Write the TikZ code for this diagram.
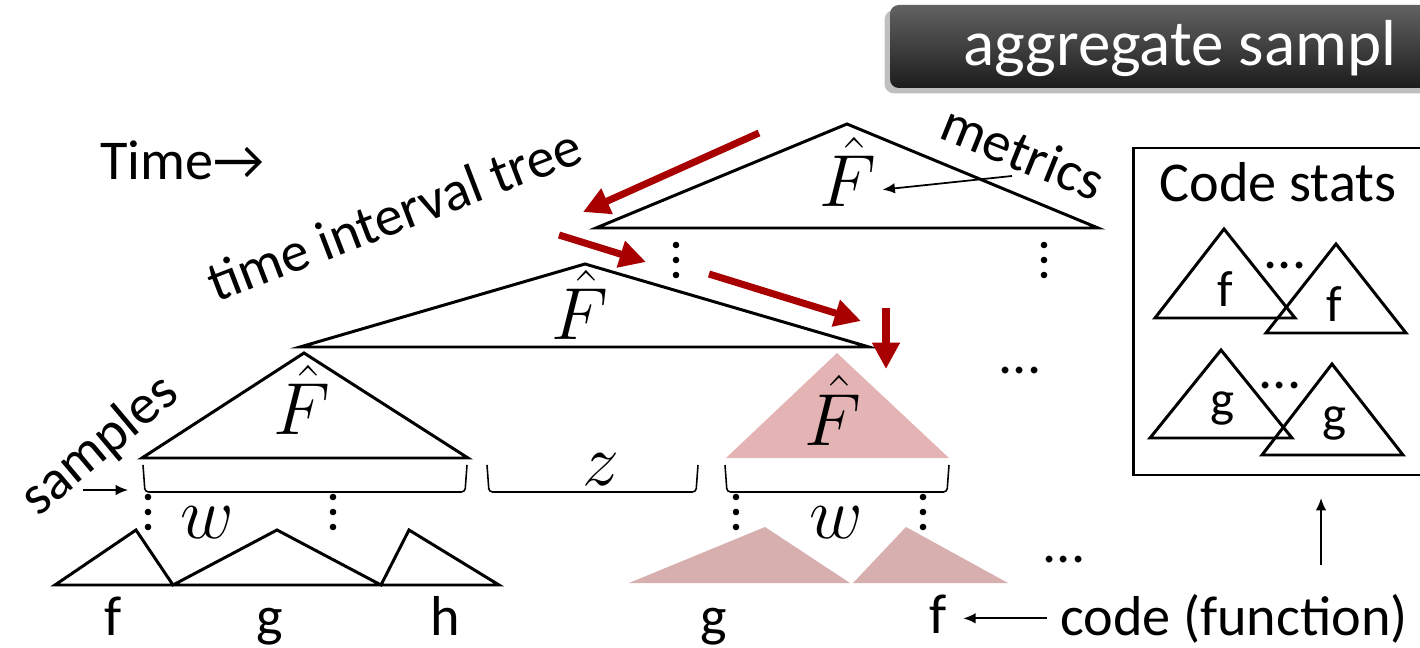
\documentclass[tikz,border=0pt]{standalone}
\usepackage{fix-cm}
\usepackage{fontspec}
\setmainfont{Carlito}
\usetikzlibrary{arrows.meta,shadows}
\definecolor{arrowred}{RGB}{168,0,0}
\definecolor{pinktop}{RGB}{228,180,180}
\definecolor{pinkbot}{RGB}{216,175,175}
\definecolor{bartop}{RGB}{98,98,98}
\definecolor{barbot}{RGB}{28,28,28}

\begin{document}
\begin{tikzpicture}[x=0.02cm, y=-0.02cm, >={Latex[length=7pt,width=6pt]},
  lbl/.style={font=\fontsize{32}{34}\selectfont},
  small/.style={font=\fontsize{29}{31}\selectfont},
  mth/.style={font=\fontsize{42}{44}\selectfont},
  tri/.style={line width=1.7pt, line join=miter},
  bracket/.style={line width=0.9pt, rounded corners=2pt},
  redarrow/.style={line width=4pt, arrowred, -{Triangle[length=15pt,width=15pt]}}]
\useasboundingbox (0,0) rectangle (1420,648);
\clip (0,0) rectangle (1420,648);

\path[drop shadow={shadow xshift=-3pt, shadow yshift=-3pt, opacity=0.5}, top color=bartop, bottom color=barbot, rounded corners=5pt] (890,5) rectangle (1460,88);
\node[font=\fontsize{37}{39}\selectfont, white, anchor=base west, inner sep=0pt] (title) at (963,66) {aggregate sampl};

\node[lbl, anchor=base west, inner sep=0pt] (time) at (100,180) {Time→};
\node[lbl, rotate=21] (tree) at (394,214) {time interval tree};
\node[lbl, rotate=-22] (metrics) at (1023,152) {metrics};
\node[lbl, rotate=40] (samples) at (100,446) {samples};

% interval tree
\draw[tri] (596,228) -- (847,124) -- (1098,228) -- cycle;
\draw[tri] (300,347) -- (585,264) -- (869,347) -- cycle;
\draw[tri] (142,458) -- (304,353) -- (468,458) -- cycle;
\fill[pinktop] (726,458) -- (837,353) -- (949,458) -- cycle;
\node[mth, anchor=base] (ftop) at (848,207) {$\hat{F}$};
\node[mth, anchor=base] (fmid) at (580,340) {$\hat{F}$};
\node[mth, anchor=base] (fleft) at (302,435) {$\hat{F}$};
\node[mth, anchor=base] (fpink) at (833,445) {$\hat{F}$};

\foreach \x/\y in {676/245, 1044/245, 148/497, 333/497, 736/497, 923/497}
  \foreach \d in {0,15,30}
    \fill (\x,\y+\d) circle (3.3);

\draw[bracket] (143,465) -- (145,492) -- (465,492) -- (467,465);
\draw[bracket] (487,465) -- (489,492) -- (696,492) -- (698,465);
\draw[bracket] (725,465) -- (727,492) -- (947,492) -- (949,465);
\node[mth, anchor=base] (z) at (601,485) {$z$};
\node[mth, anchor=base] (wleft) at (207,538) {$w$};
\node[mth, anchor=base] (wright) at (836,538) {$w$};

% samples per function
\draw[tri] (55,585) -- (136,530) -- (173,585) -- (277,530) -- (381,585) -- (409,530) -- (499,585) -- cycle;
\fill[pinkbot] (629,583) -- (765,527) -- (850,583) -- cycle;
\fill[pinkbot] (853,583) -- (906,527) -- (1008,583) -- cycle;
\node[lbl, anchor=base] (lf) at (113,635) {f};
\node[lbl, anchor=base] (lg) at (270,635) {g};
\node[lbl, anchor=base] (lh) at (445,635) {h};
\node[lbl, anchor=base] (pg) at (714,635) {g};
\node[lbl, anchor=base] (pf) at (938,633) {f};

\node[lbl, anchor=base] (dots1) at (1020,374) {...};
\node[lbl, anchor=base] (dots2) at (1064,562) {...};
\node[lbl, anchor=base] (codefn) at (1234,635) {code (function)};

% code stats
\node[draw, line width=1.3pt, minimum width=6.14cm, minimum height=6.54cm, inner sep=0pt] (stats) at (1287,311.5) {};
\node[lbl, anchor=base] (stitle) at (1278,202) {Code stats};
\draw[tri] (1155,318) -- (1224,229) -- (1295,318) -- cycle;
\draw[tri] (1266,333) -- (1336,244) -- (1406,333) -- cycle;
\draw[tri] (1150,438) -- (1221,350) -- (1292,438) -- cycle;
\draw[tri] (1262,455) -- (1332,364) -- (1403,455) -- cycle;
\node[small, anchor=base] (sf1) at (1225,307) {f};
\node[small, anchor=base] (sf2) at (1334,322) {f};
\node[small, anchor=base] (sg1) at (1222,417) {g};
\node[small, anchor=base] (sg2) at (1334,432) {g};
\node[lbl, anchor=base] (sdots1) at (1285,269) {...};
\node[lbl, anchor=base] (sdots2) at (1280,389) {...};

% arrows
\coordinate (r1a) at (759,133);
\coordinate (r1b) at (583,212);
\coordinate (r2a) at (559,235);
\coordinate (r2b) at (646,262);
\coordinate (r3a) at (709,274);
\coordinate (r3b) at (861,321);
\coordinate (r4a) at (886,308);
\coordinate (r4b) at (886,369);
\draw[redarrow] (r1a) -- (r1b);
\draw[redarrow] (r2a) -- (r2b);
\draw[redarrow] (r3a) -- (r3b);
\draw[redarrow] (r4a) -- (r4b);

\coordinate (mtail) at (1012,176);
\draw[->, line width=1pt] (mtail) -- ([yshift=-10pt]ftop.east);
\coordinate (sa) at (83,490);
\coordinate (sb) at (128,490);
\draw[->, line width=1pt] (sa) -- (sb);
\draw[->, line width=1pt, shorten <=4pt, shorten >=6pt] (codefn.west) -- (pf.east |- codefn.west);
\coordinate (uptail) at (1321,565);
\draw[->, line width=1pt, shorten >=12.5pt] (uptail) -- (uptail |- stats.south);
\end{tikzpicture}
\end{document}
